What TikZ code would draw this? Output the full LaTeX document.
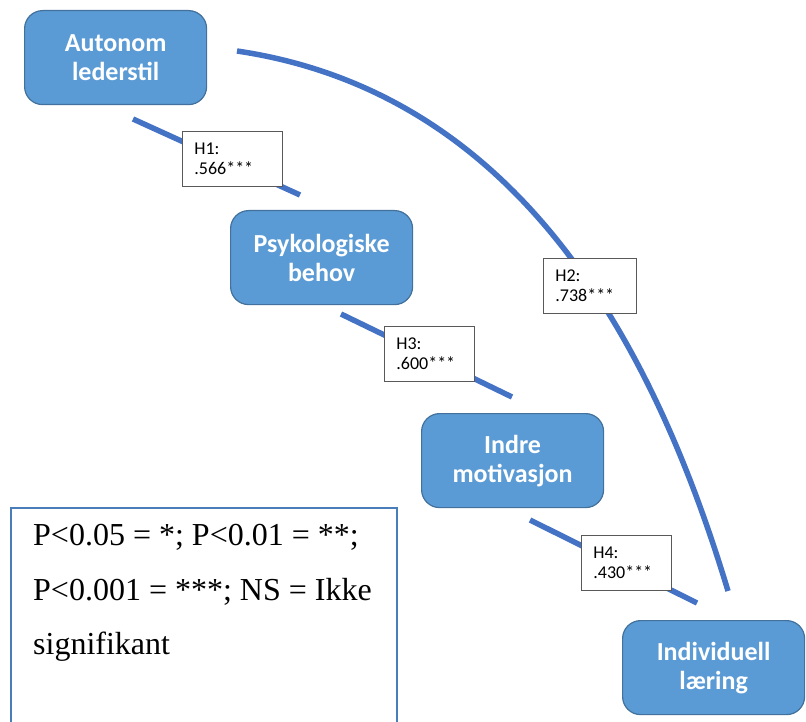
\documentclass[tikz,border=0pt]{standalone}
\usepackage{fontspec}
\setmainfont{Liberation Serif}
\newfontfamily\boxfont{Carlito}
\definecolor{boxfill}{HTML}{5B9BD5}
\definecolor{boxedge}{HTML}{41719C}
\definecolor{linkblue}{HTML}{4472C4}
\definecolor{labeledge}{HTML}{595959}
\definecolor{legendedge}{HTML}{4A7EBB}
\begin{document}
\begin{tikzpicture}[x=1pt,y=-1pt,
  construct/.style={draw=boxedge, line width=1.2pt, fill=boxfill, rounded corners=18pt,
    minimum width=182pt, minimum height=94pt, text=white, align=center,
    font=\boxfont\bfseries\fontsize{26}{29}\selectfont, inner sep=0pt, anchor=north west},
  pathline/.style={draw=linkblue, line width=5.5pt},
  coef/.style={draw=labeledge, line width=0.8pt, fill=white, minimum height=55pt,
    align=left, inner xsep=12pt, inner ysep=0pt,
    font=\boxfont\fontsize{18}{20}\selectfont, anchor=north west},
  legendtext/.style={font=\fontsize{32}{38}\selectfont, inner sep=0pt, anchor=base west},
]
\useasboundingbox (0,0) rectangle (806,722);

% end points of the path lines
\coordinate (h1a) at (133,119);
\coordinate (h1b) at (300,195);
\coordinate (h3a) at (341,314);
\coordinate (h3b) at (512,397);
\coordinate (h4a) at (530,520);
\coordinate (h4b) at (697,603);
\coordinate (h2a) at (237,51);
\coordinate (h2b) at (728,591);

% path lines
\draw[pathline] (h1a) -- (h1b);
\draw[pathline] (h3a) -- (h3b);
\draw[pathline] (h4a) -- (h4b);
\draw[pathline] (h2a) .. controls (527,94) and (658,359) .. (h2b);

% constructs
\node[construct] (auto) at (24,10) {Autonom\\lederstil};
\node[construct] (psyk) at (230,210) {Psykologiske\\behov};
\node[construct] (indre) at (421,413) {Indre\\motivasjon};
\node[construct] (indiv) at (622,620) {Individuell\\læring};

% path coefficients
\node[coef, text width=76pt] (c1) at (182,131) {H1:\\.566***};
\node[coef, text width=69pt] (c2) at (543,258) {H2:\\.738***};
\node[coef, text width=66pt] (c3) at (384,326) {H3:\\.600***};
\node[coef, text width=66pt] (c4) at (581,535) {H4:\\.430***};

% significance legend
\draw[draw=legendedge, line width=1.5pt] (11,508) rectangle (397,740);
\node[legendtext] (l1) at (33,545) {P<0.05 = *; P<0.01 = **;};
\node[legendtext] (l2) at (33,600) {P<0.001 = ***; NS = Ikke};
\node[legendtext] (l3) at (33,654) {signifikant};
\end{tikzpicture}
\end{document}
